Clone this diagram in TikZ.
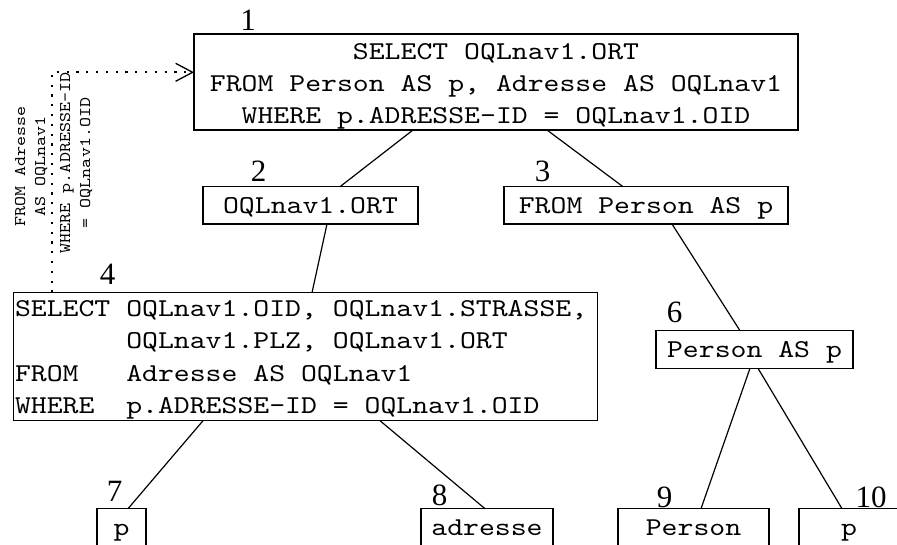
\documentclass[tikz,border=0pt]{standalone}
\usepackage{fontspec}
\setmainfont{Liberation Serif}
% slab-serif typewriter face, widened to the usual Courier proportions
\newfontfamily\qfont{lmmono10-regular}[Extension=.otf, FakeStretch=1.178,
  WordSpace={1,0,0}, PunctuationSpace=WordSpace]
\usetikzlibrary{arrows.meta,calc}

\tikzset{
  qbox/.style={draw, line width=1.3pt, rectangle, inner sep=0pt, outer sep=0pt,
    anchor=north west, font=\qfont\fontsize{25.7}{31.8}\selectfont},
  leaf/.style={qbox, text height=26.6pt, text depth=11pt},
  num/.style={anchor=base, inner sep=0pt, font=\fontsize{31}{31}\selectfont},
  edge/.style={line width=1.2pt},
  note/.style={rotate=90, anchor=base, inner sep=0pt,
    font=\qfont\fontsize{16.2}{19.8}\selectfont},
  link/.style={line width=2.3pt, dash pattern=on 2.3pt off 7.5pt,
    -{Straight Barb[length=17pt,width=18pt,line width=1.3pt]}}
}

\begin{document}
\begin{tikzpicture}[x=1pt,y=-1pt]
\useasboundingbox (0,0) rectangle (897,545);
\fill[white] (0,0) rectangle (897,545);
\clip (0,0) rectangle (897,545);

% query blocks of the tree
\node[qbox, minimum width=604pt, text height=89.3pt, text depth=6.7pt] (n1) at (194,34)
  {\begin{tabular}[b]{@{}c@{}}SELECT OQLnav1.ORT\\FROM Person AS p, Adresse AS OQLnav1\\WHERE p.ADRESSE-ID = OQLnav1.OID\end{tabular}};
\node[qbox, minimum width=215pt, text height=27.3pt, text depth=10pt] (n2) at (203,186.7) {OQLnav1.ORT};
\node[qbox, minimum width=284pt, text height=27.3pt, text depth=10pt] (n3) at (504,186.7) {FROM Person AS p};
\node[qbox, text height=120.6pt, text depth=7.4pt] (n4) at (13.5,292.7)
  {\fontsize{25.7}{32.2}\selectfont\hspace*{1.5pt}\begin{tabular}[b]{@{}l@{}}SELECT OQLnav1.OID, OQLnav1.STRASSE,\\
   \hphantom{SELECT\ }OQLnav1.PLZ, OQLnav1.ORT\\
   FROM\ \ \ Adresse AS OQLnav1\\
   WHERE\ \ p.ADRESSE-ID = OQLnav1.OID\end{tabular}\hspace*{10pt}};
\node[leaf, minimum width=197pt] (n6) at (656,330.7) {Person AS p};
\node[leaf, minimum width=49pt] (n7) at (97,508.7) {p};
\node[leaf, minimum width=132pt] (n8) at (421,508.7) {adresse};
\node[leaf, minimum width=151pt] (n9) at (618,508.7) {Person};
\node[leaf, minimum width=100pt] (n10) at (799,508.7) {p};

% node numbers
\node[num] (l1) at (248,31) {1};
\node[num] (l2) at (258.5,182) {2};
\node[num] (l3) at (542.5,182) {3};
\node[num] (l4) at (107.5,285) {4};
\node[num] (l6) at (674.5,323) {6};
\node[num] (l7) at (114.5,501) {7};
\node[num] (l8) at (439.5,505) {8};
\node[num] (l9) at (664.5,507) {9};
\node[num] (l10) at (871,507) {10};

% tree edges
\draw[edge] ($(n1.south west)+(219,0)$) -- ($(n2.north west)+(137,0)$);
\draw[edge] ($(n1.south west)+(353,0)$) -- ($(n3.north west)+(119,0)$);
\draw[edge] ($(n2.south west)+(124,0)$) -- ($(n4.north west)+(298.5,0)$);
\draw[edge] ($(n3.south west)+(168,0)$) -- ($(n6.north west)+(84,0)$);
\draw[edge] ($(n4.south west)+(189.5,0)$) -- ($(n7.north west)+(31,0)$);
\draw[edge] ($(n4.south west)+(366.5,0)$) -- ($(n8.north west)+(64,0)$);
\draw[edge] ($(n6.south west)+(94,0)$) -- ($(n9.north west)+(83,0)$);
\draw[edge] ($(n6.south west)+(102,0)$) -- ($(n10.north west)+(43,0)$);

% subquery merged back into block 1
\draw[link] ($(n4.north west)+(38.2,0)$) |- ($(n1.north west)+(0,38.3)$);
\node[note] (t1) at (45,166.5)
  {\begin{tabular}[b]{@{}c@{}}FROM Adresse\\AS OQLnav1\end{tabular}};
\node[note] (t2) at (90,163)
  {\begin{tabular}[b]{@{}c@{}}WHERE p.ADRESSE-ID\\= OQLnav1.OID\end{tabular}};
\end{tikzpicture}
\end{document}
